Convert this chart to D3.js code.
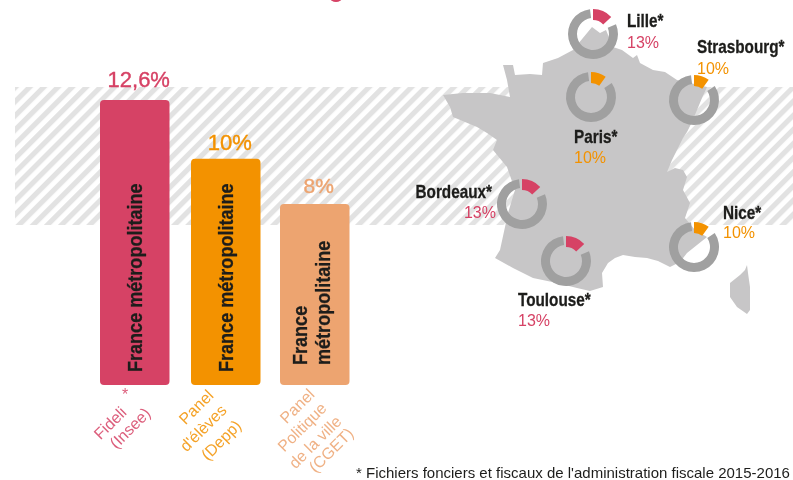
<!DOCTYPE html>
<html><head><meta charset="utf-8">
<style>html,body{margin:0;padding:0;background:#fff}svg{display:block;filter:blur(.45px)}</style>
<script src="https://cdn.jsdelivr.net/npm/d3@7"></script>
</head><body><svg id="c" width="793" height="480"></svg>
<script>
const sources=[["Fideli","(Insee)"],["Panel","d'élèves","(Depp)"],["Panel","Politique","de la ville","(CGET)"]];
const sourceValues=[12.6,10,8];
const sourceLabels=["12,6%","10%","8%"];
const barTexts=[["France métropolitaine"],["France métropolitaine"],["France","métropolitaine"]];
const cities=["Lille*","Strasbourg*","Paris*","Bordeaux*","Nice*","Toulouse*"];
const cityValues=[13,10,10,13,10,13];
const footnote="* Fichiers fonciers et fiscaux de l'administration fiscale 2015-2016";
// map outline
const franceOutline=[[592,27],[600,33],[606,30],[613,47],[622,50],[633,58],[637,55],[640,63],[653,70],[665,72],[677,80],[690,83],[707,87],[702,98],[697,110],[692,122],[687,132],[683,138],[677,150],[672,160],[667,172],[675,168],[683,170],[687,177],[683,190],[690,203],[685,218],[695,230],[707,237],[697,245],[687,253],[680,262],[670,267],[658,261],[647,258],[635,257],[623,255],[615,258],[608,263],[602,273],[603,287],[590,291],[577,288],[557,283],[533,278],[513,268],[495,258],[500,250],[505,227],[508,213],[515,190],[507,167],[493,150],[497,140],[487,133],[477,127],[465,122],[453,117],[450,107],[443,95],[463,93],[490,93],[510,97],[507,80],[503,65],[513,65],[515,75],[530,74],[542,75],[543,63],[558,58],[573,50]];
const corsicaOutline=[[747,265],[748,273],[750,287],[750,310],[747,314],[737,307],[730,297],[730,283],[740,275],[745,270]];
const W=793,H=480,band={x:15,y:87,h:138};
const barBase=385,cols=["#d64265","#f39200","#eda470"],barX=[100,191,280],barW=69.5;
const y=d3.scaleLinear().domain([0,12.6]).range([barBase,100]);
const svg=d3.select("#c"),font="'Liberation Sans',Arial,sans-serif",dark="#1d1d1b";
// hatch band
const p=svg.append("defs").append("pattern").attr("id","h").attr("patternUnits","userSpaceOnUse").attr("width",10).attr("height",10).attr("patternTransform","rotate(45)");
p.append("rect").attr("width",5.2).attr("height",10).attr("fill","#e2e2e2");
svg.append("rect").attr("x",band.x).attr("y",band.y).attr("width",W-band.x).attr("height",band.h).attr("fill","url(#h)");
// bottom of the cropped title
svg.append("ellipse").attr("cx",336).attr("cy",-2).attr("rx",6).attr("ry",4).attr("fill",cols[0]);
// bars
const g=svg.selectAll(".b").data(sourceValues).join("g");
g.append("rect").attr("x",(d,i)=>barX[i]).attr("y",d=>y(d)).attr("width",barW).attr("height",d=>barBase-y(d)).attr("rx",4).attr("fill",(d,i)=>cols[i]);
g.append("text").attr("x",(d,i)=>barX[i]+barW/2+4).attr("y",(d,i)=>y(d)-[13,9,11][i]).attr("text-anchor","middle").attr("fill",(d,i)=>cols[i]).attr("stroke",(d,i)=>cols[i]).attr("stroke-width",.4).attr("font-family",font).attr("font-size",(d,i)=>[22,22,21][i]).text((d,i)=>sourceLabels[i]);
g.each(function(d,i){
 const lines=barTexts[i],cx=barX[i]+barW/2;
 lines.forEach((l,k)=>{
  const base=lines.length==1?cx+7:cx+[-8,15.5][k];
  d3.select(this).append("text").attr("transform",`translate(${base},${lines.length==1?372:365}) rotate(-90) scale(.86,1)`).attr("fill",dark).attr("stroke",dark).attr("stroke-width",.3).attr("font-family",font).attr("font-weight",700).attr("font-size",21).text(l);
 });
});
// rotated source labels
const lineCentres=[[[110,423],[130,428]],[[196,407],[203,428],[221,440]],[[297,406],[302,427],[315,442],[331,450]]];
sources.forEach((ls,i)=>{
 ls.forEach((l,k)=>svg.append("text").attr("transform",`translate(${lineCentres[i][k]}) rotate(-45)`).attr("dy",".35em").attr("text-anchor","middle").attr("fill",cols[i]).attr("font-family",font).attr("font-size",16).attr("opacity",.85).text(l));
});
svg.append("text").attr("x",125).attr("y",400).attr("text-anchor","middle").attr("fill",cols[0]).attr("font-family",font).attr("font-size",16).attr("opacity",.85).text("*");
// map
const line=d3.line().x(d=>d[0]).y(d=>d[1]).curve(d3.curveLinearClosed);
svg.append("path").attr("d",line(franceOutline)).attr("fill","#c7c6c7");
svg.append("path").attr("d",line(corsicaOutline)).attr("fill","#c7c6c7");
// donuts
const ctr=[[593,34],[694,100],[591,97],[522,204],[694,247],[566,261]];
const nameAt=[[627,27,"start"],[697,53,"start"],[574,143,"start"],[492,198,"end"],[723,219,"start"],[518,306,"start"]];
const valAt=[[627,48,"start"],[697,74,"start"],[574,163,"start"],[496,218,"end"],[723,238,"start"],[518,326,"start"]];
const pie=d3.pie().sort(null);
const arcG=d3.arc().innerRadius(16).outerRadius(25);
const arcA=d3.arc().innerRadius(14).outerRadius(25);
cities.forEach((c,i)=>{
 const v=cityValues[i],col=v==13?cols[0]:cols[1],a=pie([v,100-v]);
 const gg=svg.append("g").attr("transform",`translate(${ctr[i]})`);
 gg.append("path").attr("d",arcG({startAngle:a[1].startAngle+.35,endAngle:a[1].endAngle-.12})).attr("fill","#a0a0a0");
 gg.append("path").attr("d",arcA(a[0])).attr("fill",col);
 svg.append("text").attr("transform",`translate(${nameAt[i][0]},${nameAt[i][1]}) scale(.85,1)`).attr("text-anchor",nameAt[i][2]).attr("fill",dark).attr("stroke",dark).attr("stroke-width",.3).attr("font-family",font).attr("font-weight",700).attr("font-size",18).text(c);
 svg.append("text").attr("x",valAt[i][0]).attr("y",valAt[i][1]).attr("text-anchor",valAt[i][2]).attr("fill",col).attr("font-family",font).attr("font-size",16).text(v+"%");
});
svg.append("text").attr("x",356).attr("y",478).attr("fill",dark).attr("font-family",font).attr("font-size",15).text(footnote);
</script></body></html>
